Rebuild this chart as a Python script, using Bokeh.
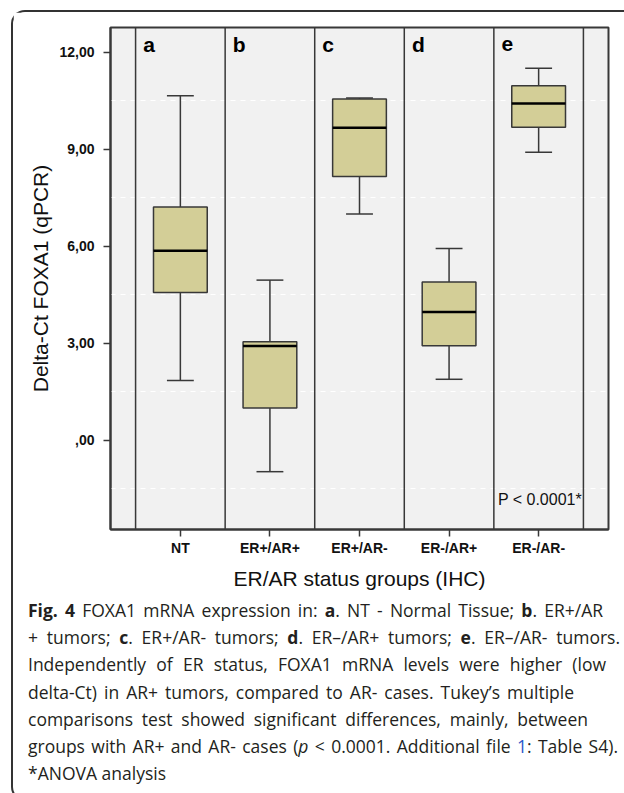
from bokeh.plotting import figure
from bokeh.models import Range1d, FixedTicker, Span, Div
from bokeh.layouts import column
from bokeh.core.properties import value
from bokeh.embed import file_html
from bokeh.resources import INLINE

# ---------------- data ----------------
categories = ["NT", "ER+/AR+", "ER+/AR-", "ER-/AR+", "ER-/AR-"]
panel_letters = ["a", "b", "c", "d", "e"]
whisker_low = [1.84, -0.98, 7.00, 1.88, 8.91]
q1 = [4.57, 0.99, 8.16, 2.92, 9.68]
median = [5.86, 2.91, 9.67, 3.96, 10.42]
q3 = [7.21, 3.04, 10.56, 4.89, 10.97]
whisker_high = [10.66, 4.95, 10.59, 5.93, 11.51]
y_ticks = [0, 3, 6, 9, 12]
y_tick_labels = [",00", "3,00", "6,00", "9,00", "12,00"]
grid_levels = [-1.5, 1.5, 4.5, 7.5, 10.5]
p_value_text = "P < 0.0001*"

caption_lines = [
    '<b>Fig. 4</b> FOXA1 mRNA expression in: <b>a</b>. NT - Normal Tissue; <b>b</b>. ER+/AR',
    '+ tumors; <b>c</b>. ER+/AR- tumors; <b>d</b>. ER&ndash;/AR+ tumors; <b>e</b>. ER&ndash;/AR- tumors.',
    'Independently of ER status, FOXA1 mRNA levels were higher (low',
    'delta-Ct) in AR+ tumors, compared to AR- cases. Tukey&rsquo;s multiple',
    'comparisons test showed significant differences, mainly, between',
    'groups with AR+ and AR- cases (<i>p</i> &lt; 0.0001. Additional file '
    '<span style="color:#2a57c9">1</span>: Table S4).',
    '*ANOVA analysis',
]
caption_line_widths = [575, 592, 578, 546, 560, 590, None]

FONT = "Liberation Sans"
DARK = "#383838"
BOX_FILL = "#d3ce97"

n = len(categories)
xs = list(range(1, n + 1))

p = figure(width=611, height=580,
           x_range=Range1d(0.22, n + 0.78), y_range=Range1d(-2.77, 12.77),
           output_backend="svg", toolbar_location=None,
           min_border_left=97, min_border_right=16, min_border_top=15, min_border_bottom=59)
p.background_fill_color = "#f1f1f1"
p.border_fill_color = "white"
p.outline_line_color = DARK
p.outline_line_width = 2

# grid
p.xgrid.visible = False
p.ygrid.ticker = FixedTicker(ticks=grid_levels)
p.ygrid.grid_line_color = "white"
p.ygrid.grid_line_dash = "5 5"
p.ygrid.grid_line_width = 1

# axes
p.yaxis.ticker = FixedTicker(ticks=y_ticks)
p.yaxis.major_label_overrides = {t: l for t, l in zip(y_ticks, y_tick_labels)}
p.xaxis.ticker = FixedTicker(ticks=xs)
p.xaxis.major_label_overrides = {x: c for x, c in zip(xs, categories)}
for ax in (p.xaxis, p.yaxis):
    ax.minor_tick_line_color = None
    ax.major_tick_in = 0
    ax.major_tick_out = 7
    ax.major_tick_line_color = DARK
    ax.major_tick_line_width = 1.5
    ax.axis_line_color = DARK
    ax.axis_line_width = 2
    ax.major_label_text_font = FONT
    ax.major_label_text_font_style = "bold"
    ax.major_label_text_font_size = "14px"
    ax.major_label_text_color = "#111111"
    ax.axis_label_text_font = FONT
    ax.axis_label_text_font_style = "normal"
    ax.axis_label_text_color = "#111111"
    ax.axis_label_text_font_size = "21px"
p.yaxis.axis_label = "Delta-Ct FOXA1 (qPCR)"
p.xaxis.axis_label = "ER/AR status groups (IHC)"
p.yaxis.major_label_standoff = 9
p.yaxis.axis_label_standoff = 4
p.xaxis.major_label_standoff = 3
p.xaxis.axis_label_standoff = 8

# group separators
for b in range(n + 1):
    p.add_layout(Span(location=b + 0.5, dimension="height", line_color=DARK, line_width=1.5))

# whiskers
p.segment(x0=xs, x1=xs, y0=q3, y1=whisker_high, line_color=DARK, line_width=1.5)
p.segment(x0=xs, x1=xs, y0=q1, y1=whisker_low, line_color=DARK, line_width=1.5)
cap_half = 0.15
p.segment(x0=[x - cap_half for x in xs], x1=[x + cap_half for x in xs],
          y0=whisker_high, y1=whisker_high, line_color=DARK, line_width=1.5)
p.segment(x0=[x - cap_half for x in xs], x1=[x + cap_half for x in xs],
          y0=whisker_low, y1=whisker_low, line_color=DARK, line_width=1.5)

# boxes
p.vbar(x=xs, width=0.6, bottom=q1, top=q3, fill_color=BOX_FILL, line_color=DARK, line_width=1.5)
p.segment(x0=[x - 0.3 for x in xs], x1=[x + 0.3 for x in xs], y0=median, y1=median,
          line_color="black", line_width=2.5)

# panel letters
p.text(x=[x - 0.5 + 0.085 for x in xs], y=[12.25] * n, text=panel_letters,
       text_font=value(FONT), text_font_style="bold", text_font_size="21px",
       text_baseline="alphabetic", text_align="left", text_color="black")

# p-value
p.text(x=[n - 0.5 + 0.045], y=[-1.84], text=[p_value_text],
       text_font=value(FONT), text_font_size="16px",
       text_baseline="alphabetic", text_align="left", text_color="#111111")

# caption
line_divs = []
for txt, w in zip(caption_lines, caption_line_widths):
    if w is None:
        line_divs.append('<div style="white-space: nowrap;">%s</div>' % txt)
    else:
        line_divs.append(
            '<div style="width:%dpx; white-space: nowrap; text-align: justify; '
            'text-align-last: justify;">%s</div>' % (w, txt))
caption_html = (
    '<div style="font-family: \'Open Sans\', sans-serif; font-size: 17.5px; line-height: 27.2px; '
    'color: #231f20; padding: 0 0 0 10px;">' + "".join(line_divs) + '</div>'
)
cap = Div(text=caption_html, width=611, height=197)

layout = column(p, cap,
                styles={"border-top": "2px solid #333", "border-left": "2px solid #333",
                        "border-bottom": "2px solid #333",
                        "border-radius": "14px 0 0 14px"},
                margin=(10, 0, 0, 11))

open("out.html", "w").write(file_html(layout, INLINE))
